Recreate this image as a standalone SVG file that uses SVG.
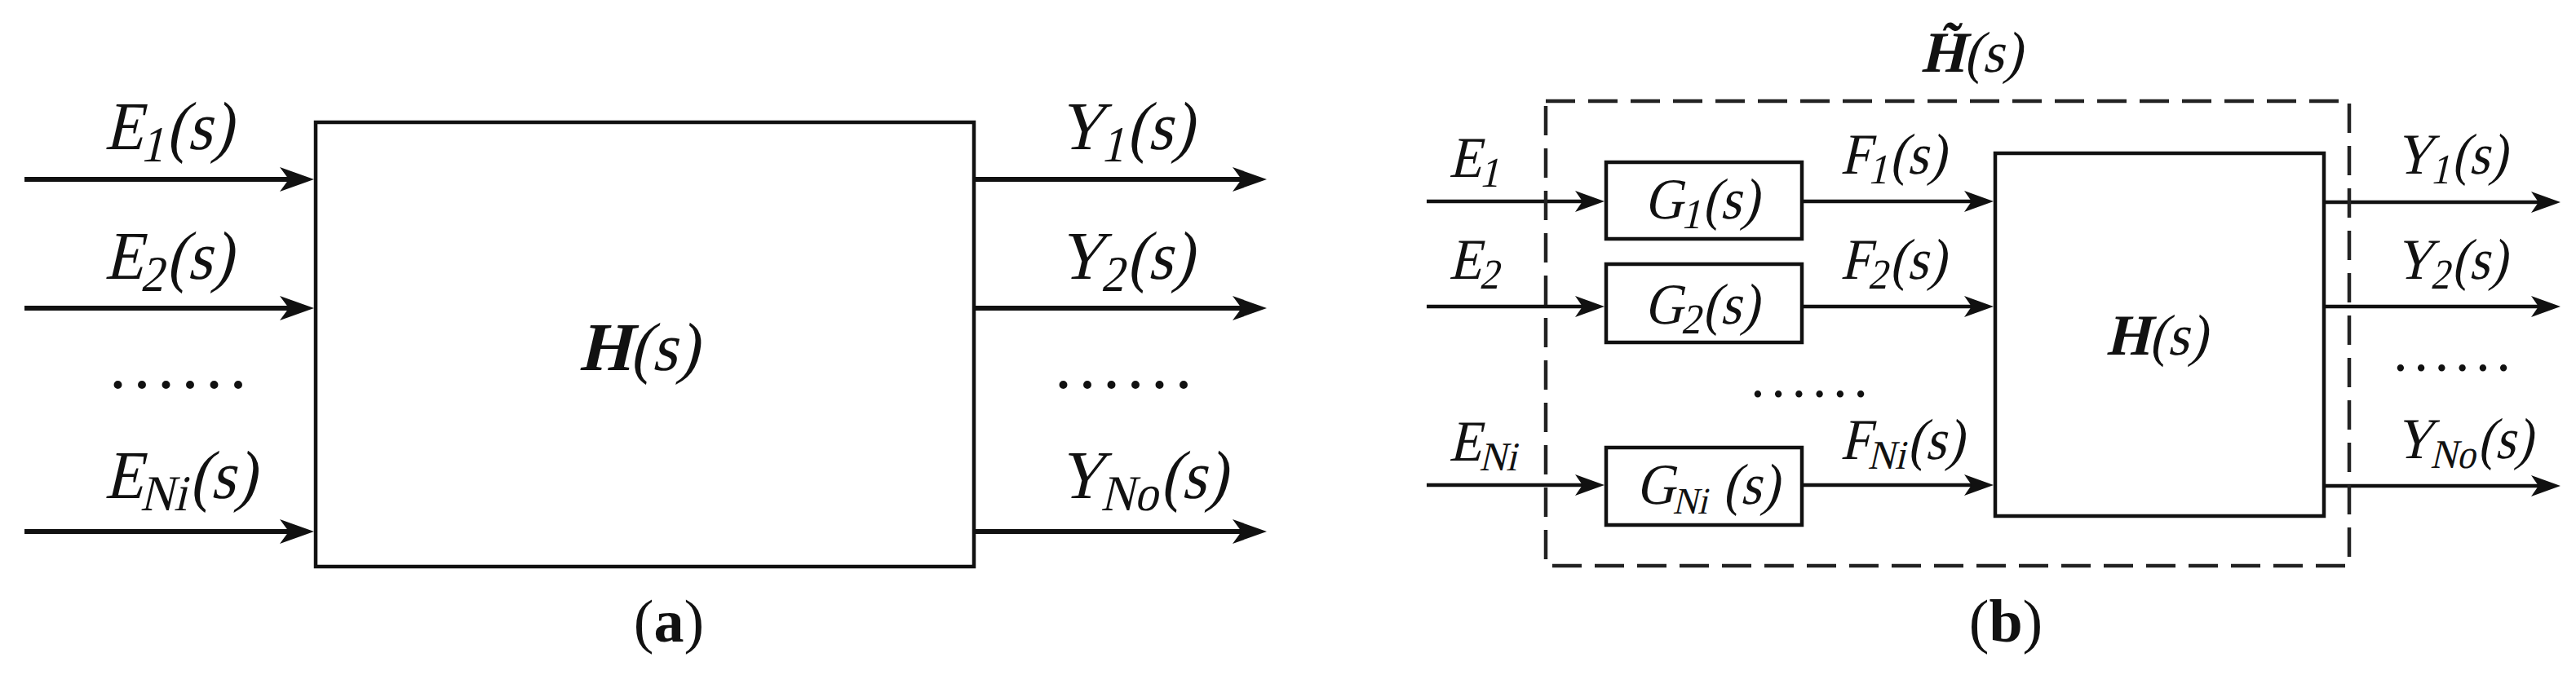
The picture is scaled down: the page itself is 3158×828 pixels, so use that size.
<svg xmlns="http://www.w3.org/2000/svg" width="3158" height="828" viewBox="0 0 3158 828">
<style>
.box{fill:#fff;stroke:#111;stroke-width:4.5}
.dash{fill:none;stroke:#222;stroke-width:4.5;stroke-dasharray:36 16}
.wa{stroke:#111;stroke-width:6;fill:none}
.wb{stroke:#111;stroke-width:4.5;fill:none}
.t{font-family:"Liberation Serif","Times New Roman",serif;font-style:normal;fill:#111}
.ta{font-size:84px}
.tb{font-size:71px}
.bi{font-weight:bold}
.dots{font-family:"Liberation Serif",serif;fill:#111}
.cap{font-family:"Liberation Serif","Times New Roman",serif;font-size:74px;fill:#111}
</style>
<defs>
<marker id="ahA" markerUnits="userSpaceOnUse" markerWidth="44" markerHeight="32" refX="22" refY="15" orient="auto">
<path d="M0,0 L42,15 L0,30 L11,15 Z" fill="#111"/>
</marker>
<marker id="ahB" markerUnits="userSpaceOnUse" markerWidth="38" markerHeight="28" refX="18" refY="13" orient="auto">
<path d="M0,0 L36,13 L0,26 L9,13 Z" fill="#111"/>
</marker>
</defs>

<g id="connectors">
<line class="wa" x1="30" y1="220" x2="365" y2="220" marker-end="url(#ahA)"/>
<line class="wa" x1="30" y1="378" x2="365" y2="378" marker-end="url(#ahA)"/>
<line class="wa" x1="30" y1="652" x2="365" y2="652" marker-end="url(#ahA)"/>
<line class="wa" x1="1196" y1="220" x2="1533" y2="220" marker-end="url(#ahA)"/>
<line class="wa" x1="1196" y1="378" x2="1533" y2="378" marker-end="url(#ahA)"/>
<line class="wa" x1="1196" y1="652" x2="1533" y2="652" marker-end="url(#ahA)"/>

<line class="wb" x1="1749" y1="247" x2="1949" y2="247" marker-end="url(#ahB)"/>
<line class="wb" x1="1749" y1="376" x2="1949" y2="376" marker-end="url(#ahB)"/>
<line class="wb" x1="1749" y1="595" x2="1949" y2="595" marker-end="url(#ahB)"/>
<line class="wb" x1="2209" y1="247" x2="2426" y2="247" marker-end="url(#ahB)"/>
<line class="wb" x1="2209" y1="376" x2="2426" y2="376" marker-end="url(#ahB)"/>
<line class="wb" x1="2209" y1="595" x2="2426" y2="595" marker-end="url(#ahB)"/>
<line class="wb" x1="2849" y1="248" x2="3121" y2="248" marker-end="url(#ahB)"/>
<line class="wb" x1="2849" y1="376" x2="3121" y2="376" marker-end="url(#ahB)"/>
<line class="wb" x1="2849" y1="596" x2="3121" y2="596" marker-end="url(#ahB)"/>
</g>

<!-- Panel (a) -->
<g id="a-H">
<rect class="box" x="387" y="150" width="807" height="545"/>
<text class="t ta" transform="translate(710,454) skewX(-13) scale(0.95,1)"><tspan class="bi">H</tspan>(s)</text>
</g>
<g id="a-labels">
<text class="t ta" transform="translate(128,183) skewX(-13) scale(0.92,1)">E<tspan font-size="62" dy="15">1</tspan><tspan dy="-15">(s)</tspan></text>
<text class="t ta" transform="translate(128,342) skewX(-13) scale(0.92,1)">E<tspan font-size="62" dy="15">2</tspan><tspan dy="-15">(s)</tspan></text>
<text class="t ta" transform="translate(128,611) skewX(-13) scale(0.92,1)">E<tspan font-size="62" dy="15">Ni</tspan><tspan dy="-15">(s)</tspan></text>
<text class="dots" x="134" y="476" font-size="84" letter-spacing="8.5">......</text>
<text class="t ta" transform="translate(1297,183) skewX(-13) scale(0.92,1)">Y<tspan font-size="62" dy="15">1</tspan><tspan dy="-15">(s)</tspan></text>
<text class="t ta" transform="translate(1297,342) skewX(-13) scale(0.92,1)">Y<tspan font-size="62" dy="15">2</tspan><tspan dy="-15">(s)</tspan></text>
<text class="t ta" transform="translate(1297,611) skewX(-13) scale(0.92,1)">Y<tspan font-size="62" dy="15">No</tspan><tspan dy="-15">(s)</tspan></text>
<text class="dots" x="1293" y="476" font-size="84" letter-spacing="8.5">......</text>
<text class="cap" x="820" y="787" text-anchor="middle">(<tspan font-weight="bold">a</tspan>)</text>
</g>

<!-- Panel (b) -->
<g id="b-Htilde">
<rect class="dash" x="1895" y="124" width="985" height="570"/>
<text class="t tb" transform="translate(2355,88) skewX(-13) scale(0.95,1)"><tspan class="bi">H&#x303;</tspan>(s)</text>
</g>
<g id="b-G1">
<rect class="box" x="1969" y="199" width="240" height="94"/>
<text class="t tb" transform="translate(2016,268) skewX(-13) scale(0.92,1)">G<tspan font-size="52" dy="12">1</tspan><tspan dy="-12">(s)</tspan></text>
</g>
<g id="b-G2">
<rect class="box" x="1969" y="324" width="240" height="96"/>
<text class="t tb" transform="translate(2016,397) skewX(-13) scale(0.92,1)">G<tspan font-size="52" dy="12">2</tspan><tspan dy="-12">(s)</tspan></text>
</g>
<g id="b-GNi">
<rect class="box" x="1969" y="549" width="240" height="95"/>
<text class="t tb" transform="translate(2006,618) skewX(-13) scale(0.92,1)">G<tspan font-size="46" dy="12">Ni</tspan><tspan dy="-12"> (s)</tspan></text>
</g>
<g id="b-H">
<rect class="box" x="2446" y="188" width="403" height="445"/>
<text class="t tb" transform="translate(2582,435) skewX(-13) scale(0.95,1)"><tspan class="bi">H</tspan>(s)</text>
</g>
<g id="b-labels">
<text class="t tb" transform="translate(1776,217) skewX(-13) scale(0.92,1)">E<tspan font-size="52" dy="12">1</tspan></text>
<text class="t tb" transform="translate(1776,342) skewX(-13) scale(0.92,1)">E<tspan font-size="52" dy="12">2</tspan></text>
<text class="t tb" transform="translate(1776,565) skewX(-13) scale(0.92,1)">E<tspan font-size="50" dy="12">Ni</tspan></text>
<text class="t tb" transform="translate(2256,213) skewX(-13) scale(0.92,1)">F<tspan font-size="52" dy="12">1</tspan><tspan dy="-12">(s)</tspan></text>
<text class="t tb" transform="translate(2256,342) skewX(-13) scale(0.92,1)">F<tspan font-size="52" dy="12">2</tspan><tspan dy="-12">(s)</tspan></text>
<text class="t tb" transform="translate(2256,563) skewX(-13) scale(0.92,1)">F<tspan font-size="50" dy="12">Ni</tspan><tspan dy="-12">(s)</tspan></text>
<text class="dots" x="2146" y="487" font-size="71" letter-spacing="7.5">......</text>
<text class="t tb" transform="translate(2936,213) skewX(-13) scale(0.9,1)">Y<tspan font-size="52" dy="12">1</tspan><tspan dy="-12">(s)</tspan></text>
<text class="t tb" transform="translate(2936,342) skewX(-13) scale(0.9,1)">Y<tspan font-size="52" dy="12">2</tspan><tspan dy="-12">(s)</tspan></text>
<text class="t tb" transform="translate(2936,562) skewX(-13) scale(0.9,1)">Y<tspan font-size="50" dy="12">No</tspan><tspan dy="-12">(s)</tspan></text>
<text class="dots" x="2934" y="455" font-size="71" letter-spacing="7.5">......</text>
<text class="cap" x="2459" y="787" text-anchor="middle">(<tspan font-weight="bold">b</tspan>)</text>
</g>
</svg>
